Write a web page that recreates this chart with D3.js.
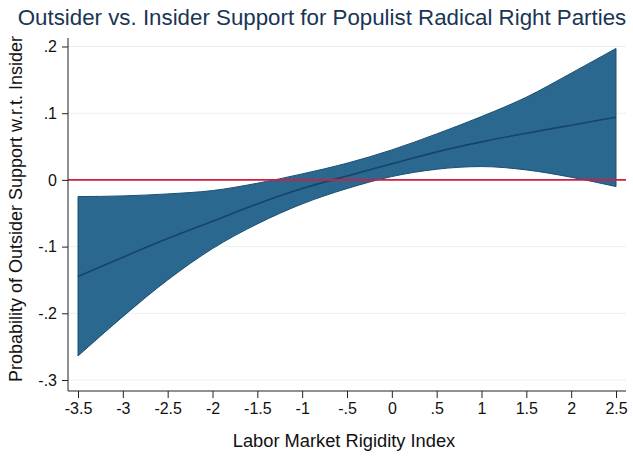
<!DOCTYPE html>
<html>
<head>
<meta charset="utf-8">
<script src="https://cdn.jsdelivr.net/npm/d3@7"></script>
<style>
  body { margin: 0; background: #fff; }
  text { font-family: "Liberation Sans", Arial, sans-serif; }
</style>
</head>
<body>
<svg id="chart" width="633" height="457"></svg>
<script>
// labor market rigidity index, sampled every 0.5
const rigidity = [-3.5, -3, -2.5, -2, -1.5, -1, -0.5, 0, 0.5, 1, 1.5, 2, 2.5]
// estimated effect and its confidence bounds
const effect = [-0.145, -0.116, -0.088, -0.062, -0.036, -0.013, 0.006, 0.024, 0.042, 0.057, 0.070, 0.082, 0.094]
const upper = [-0.025, -0.024, -0.021, -0.016, -0.005, 0.009, 0.025, 0.045, 0.069, 0.095, 0.124, 0.160, 0.197]
const lower = [-0.264, -0.205, -0.150, -0.103, -0.066, -0.036, -0.013, 0.005, 0.016, 0.020, 0.015, 0.004, -0.010]

const xTicks = [-3.5, -3, -2.5, -2, -1.5, -1, -0.5, 0, 0.5, 1, 1.5, 2, 2.5]
const yTicks = [-0.3, -0.2, -0.1, 0, 0.1, 0.2]

const svg = d3.select('#chart')

const x = d3.scaleLinear().domain([-3.5, 2.5]).range([78, 616])
const y = d3.scaleLinear().domain([-0.3, 0.2]).range([380, 46.5])

// stata style labels: .5, -.1, 0 (plain hyphen for the minus)
const fmt = (v) => {
  if (Math.abs(v) < 1e-9) return '0'
  return String(+v.toFixed(2)).replace(/^(-?)0\./, '$1.')
}

// faint gridlines
svg.append('g')
  .selectAll('line')
  .data(yTicks)
  .enter()
  .append('line')
  .attr('x1', 68).attr('x2', 626)
  .attr('y1', (d) => y(d)).attr('y2', (d) => y(d))
  .attr('stroke', '#eaf0f2')
  .attr('stroke-width', 1)

const pts = rigidity.map((r, i) => ({x: r, m: effect[i], hi: upper[i], lo: lower[i]}))

// confidence band
svg.append('path')
  .datum(pts)
  .attr('d', d3.area()
    .x((d) => x(d.x))
    .y0((d) => y(d.lo))
    .y1((d) => y(d.hi))
    .curve(d3.curveMonotoneX))
  .attr('fill', '#2a6890')
  .attr('stroke', '#1c4e72')
  .attr('stroke-width', 1)

// point estimate
svg.append('path')
  .datum(pts)
  .attr('d', d3.line()
    .x((d) => x(d.x))
    .y((d) => y(d.m))
    .curve(d3.curveMonotoneX))
  .attr('fill', 'none')
  .attr('stroke', '#16446a')
  .attr('stroke-width', 1.6)

// zero reference line
svg.append('line')
  .attr('x1', 68).attr('x2', 626)
  .attr('y1', y(0)).attr('y2', y(0))
  .attr('stroke', '#d11f42')
  .attr('stroke-width', 1.6)

// axes
const yAxis = svg.append('g')
  .attr('transform', 'translate(68,0)')
  .call(d3.axisLeft(y).tickValues(yTicks).tickFormat(fmt).tickSize(6).tickPadding(5))
yAxis.select('.domain').attr('d', 'M0,38V391').attr('stroke', '#222')

const xAxis = svg.append('g')
  .attr('transform', 'translate(0,391)')
  .call(d3.axisBottom(x).tickValues(xTicks).tickFormat(fmt).tickSize(7).tickPadding(5))
xAxis.select('.domain').attr('d', 'M68,0H626').attr('stroke', '#222')

svg.selectAll('.tick line').attr('stroke', '#222')
svg.selectAll('.tick text')
  .attr('fill', '#111')
  .style('font-size', '16px')
  .style('font-family', '"Liberation Sans", Arial, sans-serif')

// titles
svg.append('text')
  .attr('x', 322).attr('y', 25)
  .attr('text-anchor', 'middle')
  .attr('fill', '#1a3554')
  .style('font-size', '22.3px')
  .text('Outsider vs. Insider Support for Populist Radical Right Parties')

svg.append('text')
  .attr('x', 344).attr('y', 447)
  .attr('text-anchor', 'middle')
  .attr('fill', '#111')
  .style('font-size', '18.3px')
  .text('Labor Market Rigidity Index')

svg.append('text')
  .attr('transform', 'translate(22,209) rotate(-90)')
  .attr('text-anchor', 'middle')
  .attr('fill', '#111')
  .style('font-size', '18px')
  .text('Probability of Outsider Support w.r.t. Insider')
</script>
</body>
</html>
